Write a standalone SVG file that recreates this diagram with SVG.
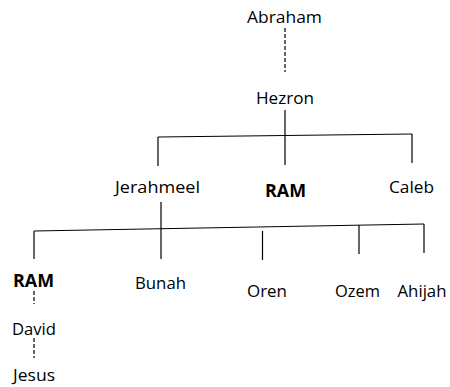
<svg xmlns="http://www.w3.org/2000/svg" width="450" height="387" viewBox="0 0 450 387">
<style>
  text { font-family: "Open Sans", "Liberation Sans", sans-serif; font-size: 17px; fill: #000; text-anchor: middle; }
  .b { font-weight: bold; }
  .ln { stroke: #000; stroke-width: 1.2; fill: none; }
  .ds { stroke: #000; stroke-width: 1.2; fill: none; stroke-dasharray: 4 2; }
</style>
<rect width="450" height="387" fill="#fff"/>
<g id="connectors">
  <line class="ds" x1="285" y1="28" x2="285" y2="72"/>
  <line class="ln" x1="285" y1="110" x2="285" y2="165"/>
  <line class="ln" x1="158" y1="137" x2="412" y2="134"/>
  <line class="ln" x1="158" y1="137" x2="158" y2="166"/>
  <line class="ln" x1="412" y1="134" x2="412" y2="163"/>
  <line class="ln" x1="161" y1="202" x2="161" y2="259"/>
  <line class="ln" x1="34" y1="231" x2="424" y2="224"/>
  <line class="ln" x1="34" y1="231" x2="34" y2="259"/>
  <line class="ln" x1="262.5" y1="231" x2="262.5" y2="260"/>
  <line class="ln" x1="359" y1="225" x2="359" y2="254"/>
  <line class="ln" x1="424" y1="224" x2="424" y2="253"/>
  <line class="ds" x1="34" y1="291" x2="34" y2="304"/>
  <line class="ds" x1="34" y1="338" x2="34" y2="358"/>
</g>
<g id="abraham"><text x="284.5" y="23" textLength="75" lengthAdjust="spacingAndGlyphs">Abraham</text></g>
<g id="hezron"><text x="285" y="104" textLength="58" lengthAdjust="spacingAndGlyphs">Hezron</text></g>
<g id="jerahmeel"><text x="157.5" y="193" textLength="85" lengthAdjust="spacingAndGlyphs">Jerahmeel</text></g>
<g id="ram1"><text class="b" x="285.5" y="197" textLength="41" lengthAdjust="spacingAndGlyphs">RAM</text></g>
<g id="caleb"><text x="411.5" y="193" textLength="45" lengthAdjust="spacingAndGlyphs">Caleb</text></g>
<g id="ram2"><text class="b" x="33.5" y="287" textLength="41" lengthAdjust="spacingAndGlyphs">RAM</text></g>
<g id="bunah"><text x="160.5" y="288.5" textLength="51" lengthAdjust="spacingAndGlyphs">Bunah</text></g>
<g id="oren"><text x="267" y="297" textLength="40" lengthAdjust="spacingAndGlyphs">Oren</text></g>
<g id="ozem"><text x="357.5" y="297" textLength="45" lengthAdjust="spacingAndGlyphs">Ozem</text></g>
<g id="ahijah"><text x="422" y="297" textLength="49" lengthAdjust="spacingAndGlyphs">Ahijah</text></g>
<g id="david"><text x="34" y="335" textLength="44" lengthAdjust="spacingAndGlyphs">David</text></g>
<g id="jesus"><text x="34" y="381" textLength="42" lengthAdjust="spacingAndGlyphs">Jesus</text></g>
</svg>
